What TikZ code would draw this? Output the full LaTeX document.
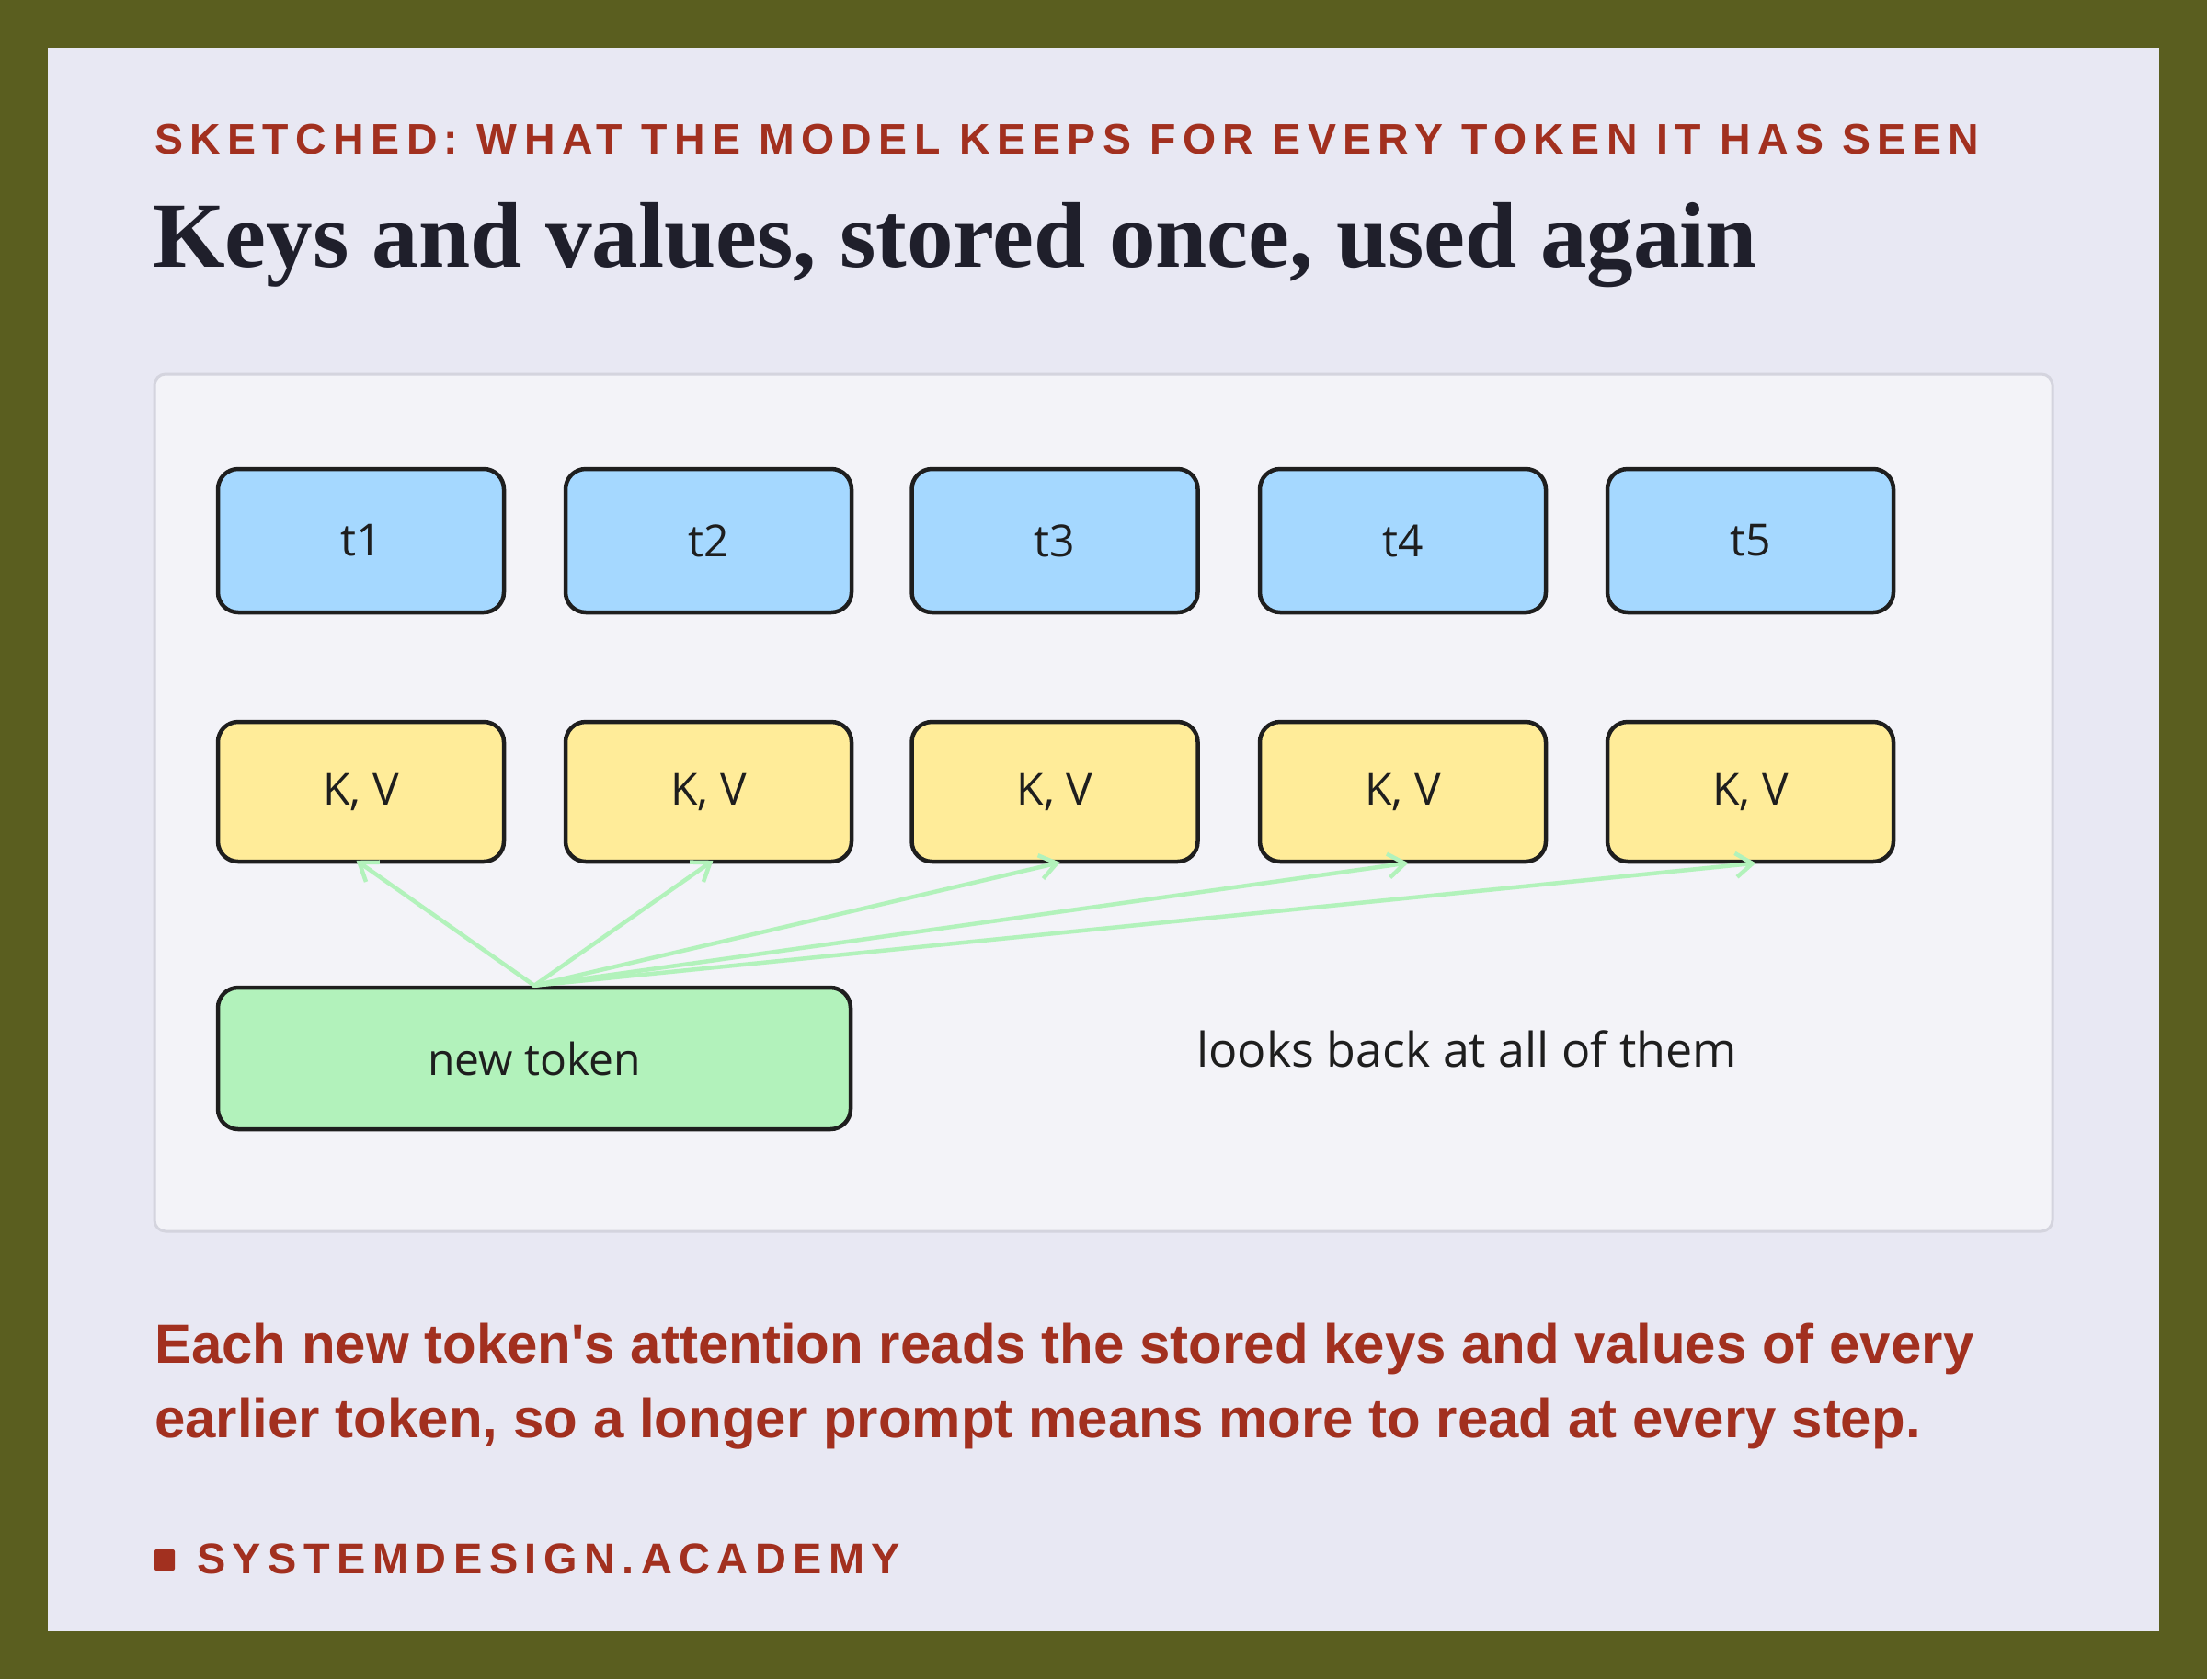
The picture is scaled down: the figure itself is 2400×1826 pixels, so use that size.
\documentclass[tikz,border=0pt]{standalone}
\usepackage{fontspec}
\usetikzlibrary{arrows.meta}
\setmainfont{Liberation Serif}
\setsansfont{Liberation Sans}
\newfontfamily\trackfont[LetterSpace=16]{Liberation Sans}
\newfontfamily\handfont{Open Sans}
\definecolor{frameolive}{HTML}{5A5E1F}
\definecolor{panelbg}{HTML}{E8E8F3}
\definecolor{cardbg}{HTML}{F3F3F8}
\definecolor{cardline}{HTML}{D4D4DE}
\definecolor{accentred}{HTML}{A2301F}
\definecolor{titleink}{HTML}{1F1F2B}
\definecolor{strokeink}{HTML}{1E1E1E}
\definecolor{tokblue}{HTML}{A5D8FF}
\definecolor{kvyellow}{HTML}{FFEC99}
\definecolor{newgreen}{HTML}{B2F2BB}
\tikzset{
  sketchbox/.style={draw=strokeink, line width=4.5pt, rounded corners=22pt,
    font=\handfont\fontsize{48}{52}\selectfont, text=strokeink, inner sep=0pt},
  tokbox/.style={sketchbox, fill=tokblue, minimum width=311pt, minimum height=156pt},
  kvbox/.style={sketchbox, fill=kvyellow, minimum width=311pt, minimum height=152pt},
  newbox/.style={sketchbox, fill=newgreen, minimum width=688pt, minimum height=154pt},
  lookarrow/.style={draw=newgreen, line width=4.5pt, line cap=round,
    -{Straight Barb[length=18pt, width=26pt, line width=4.5pt]}, shorten >=-6pt},
  headtext/.style={anchor=base west, inner sep=0pt, text=accentred},
}
\begin{document}
\begin{tikzpicture}[x=1pt,y=-1pt]
\useasboundingbox (0,0) rectangle (2400,1826);
\fill[frameolive] (0,0) rectangle (2400,1826);
\fill[panelbg] (52,52) rectangle (2348,1774);
\draw[draw=cardline, fill=cardbg, line width=3pt, rounded corners=12pt] (168,407) rectangle (2232,1339);

% header
\node[headtext] (kicker) at (168,167)
  {\resizebox{1984pt}{!}{\trackfont\bfseries\fontsize{46}{50}\selectfont SKETCHED: WHAT THE MODEL KEEPS FOR EVERY TOKEN IT HAS SEEN}};
\node[anchor=base west, inner sep=0pt, text=titleink] (title) at (166,290)
  {\resizebox{1745pt}{!}{\rmfamily\bfseries\fontsize{91}{96}\selectfont Keys and values, stored once, used again}};

% tokens
\node[tokbox] (t1) at (392.5,588) {t1};
\node[tokbox] (t2) at (770.5,588) {t2};
\node[tokbox] (t3) at (1147,588) {t3};
\node[tokbox] (t4) at (1525.5,588) {t4};
\node[tokbox] (t5) at (1903.5,588) {t5};

\node[kvbox] (kv1) at (392.5,861) {K, V};
\node[kvbox] (kv2) at (770.5,861) {K, V};
\node[kvbox] (kv3) at (1147,861) {K, V};
\node[kvbox] (kv4) at (1525.5,861) {K, V};
\node[kvbox] (kv5) at (1903.5,861) {K, V};

\node[newbox] (nt) at (581,1151) {new token};

\node[anchor=base, inner sep=0pt, text=strokeink, font=\handfont\fontsize{52}{56}\selectfont] (looks) at (1595,1160) {looks back at all of them};

\foreach \k in {1,...,5}{
  \draw[lookarrow] (nt.north) -- (kv\k.south);
}

% caption
\node[headtext] (cap1) at (168,1482)
  {\sffamily\bfseries\fontsize{60}{66}\selectfont Each new token\textquotesingle s attention reads the stored keys and values of every};
\node[headtext] (cap2) at (168,1563)
  {\sffamily\bfseries\fontsize{60}{66}\selectfont earlier token, so a longer prompt means more to read at every step.};

% footer
\fill[accentred, rounded corners=2pt] (168,1685) rectangle (190,1708);
\node[headtext] (brand) at (214,1711)
  {\resizebox{765pt}{!}{\trackfont\bfseries\fontsize{46}{50}\selectfont SYSTEMDESIGN.ACADEMY}};
\end{tikzpicture}
\end{document}
